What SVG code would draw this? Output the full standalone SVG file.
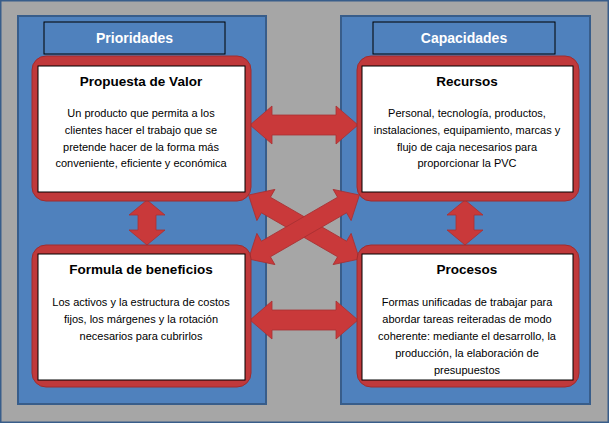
<svg xmlns="http://www.w3.org/2000/svg" width="609" height="423" viewBox="0 0 609 423">
<style>
.panel{fill:#4f81bd;stroke:#385d8a;stroke-width:2}
.title{fill:#4f81bd;stroke:#000;stroke-width:1}
.tt{font-family:"Liberation Sans",sans-serif;font-weight:bold;font-size:14px;fill:#fff;text-anchor:middle}
.red{fill:#c0393b;stroke:#a02c2e;stroke-width:1}
.white{fill:#fff;stroke:#000;stroke-width:1}
.h{font-family:"Liberation Sans",sans-serif;font-weight:bold;font-size:13.5px;fill:#000;text-anchor:middle}
.b{font-family:"Liberation Sans",sans-serif;font-size:11px;fill:#000;text-anchor:middle}
.arr{fill:#c9393a;stroke:#a83032;stroke-width:0.8}
</style>
<rect x="0.5" y="0.5" width="608" height="422" fill="#a6a6a6" stroke="#385d8a" stroke-width="2"/>
<g id="left-panel"><rect class="panel" x="18" y="16" width="248" height="388"/>
<rect class="title" x="44" y="22" width="181" height="32"/><text class="tt" x="134.5" y="43">Prioridades</text></g>
<g id="right-panel"><rect class="panel" x="341" y="16" width="249" height="388"/>
<rect class="title" x="373" y="22" width="182" height="32"/><text class="tt" x="464" y="43">Capacidades</text></g>
<g id="connectors">
<polygon class="arr" points="250,125 272,106 272,115 336,115 336,106 358,125 336,144 336,135 272,135 272,144"/>
<polygon class="arr" points="250,320 272,301 272,310 336,310 336,301 358,320 336,339 336,330 272,330 272,339"/>
<polygon class="arr" points="147,200 129,215 138,215 138,230 129,230 147,245 165,230 156,230 156,215 165,215"/>
<polygon class="arr" points="465,200 447,215 456,215 456,230 447,230 465,245 483,230 474,230 474,215 483,215"/>
<g transform="translate(304,227) rotate(30)"><polygon class="arr" points="-64,0 -44,-18 -44,-9 44,-9 44,-18 64,0 44,18 44,9 -44,9 -44,18"/></g>
<g transform="translate(304,227) rotate(-30)"><polygon class="arr" points="-64,0 -44,-18 -44,-9 44,-9 44,-18 64,0 44,18 44,9 -44,9 -44,18"/></g>
</g>
<g id="propuesta"><rect class="red" x="32" y="56" width="219" height="145" rx="14"/><rect class="white" x="38" y="66" width="207" height="126"/>
<text class="h" x="141" y="86">Propuesta de Valor</text>
<text class="b" x="141" y="117">Un producto que permita a los</text>
<text class="b" x="141" y="134">clientes hacer el trabajo que se</text>
<text class="b" x="141" y="151">pretende hacer de la forma más</text>
<text class="b" x="141" y="167">conveniente,  eficiente y económica</text></g>
<g id="formula"><rect class="red" x="32" y="245" width="219" height="142" rx="14"/><rect class="white" x="38" y="254" width="207" height="126"/>
<text class="h" x="141" y="274">Formula de beneficios</text>
<text class="b" x="141" y="306">Los activos y la estructura de costos</text>
<text class="b" x="141" y="323">fijos, los márgenes y la rotación</text>
<text class="b" x="141" y="340">necesarios para cubrirlos</text></g>
<g id="recursos"><rect class="red" x="357" y="56" width="222" height="145" rx="14"/><rect class="white" x="362" y="66" width="211" height="126"/>
<text class="h" x="467" y="86">Recursos</text>
<text class="b" x="467" y="117">Personal, tecnología, productos,</text>
<text class="b" x="467" y="134">instalaciones, equipamiento, marcas y</text>
<text class="b" x="467" y="151">flujo de caja necesarios para</text>
<text class="b" x="467" y="167">proporcionar  la PVC</text></g>
<g id="procesos"><rect class="red" x="357" y="245" width="222" height="142" rx="14"/><rect class="white" x="362" y="254" width="211" height="126"/>
<text class="h" x="467" y="274">Procesos</text>
<text class="b" x="467" y="306">Formas unificadas de trabajar para</text>
<text class="b" x="467" y="323">abordar tareas reiteradas de modo</text>
<text class="b" x="467" y="340">coherente:  mediante el desarrollo, la</text>
<text class="b" x="467" y="357">producción,  la elaboración de</text>
<text class="b" x="467" y="374">presupuestos</text></g>
</svg>
